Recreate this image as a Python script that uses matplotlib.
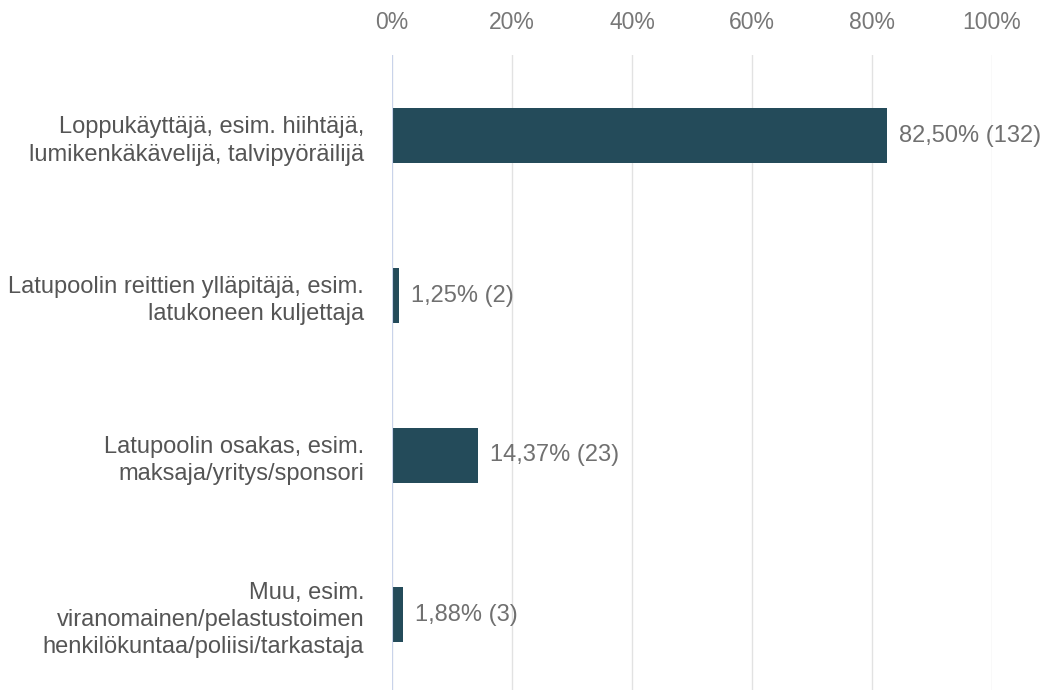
import matplotlib.pyplot as plt
import numpy as np

plt.rcParams['font.family'] = ['Liberation Sans', 'DejaVu Sans']

categories = [
    'Loppukäyttäjä, esim. hiihtäjä,\nlumikenkäkävelijä, talvipyöräilijä',
    'Latupoolin reittien ylläpitäjä, esim.\nlatukoneen kuljettaja',
    'Latupoolin osakas, esim.\nmaksaja/yritys/sponsori',
    'Muu, esim.\nviranomainen/pelastustoimen\nhenkilökuntaa/poliisi/tarkastaja',
]
percent = [82.50, 1.25, 14.37, 1.88]
counts = [132, 2, 23, 3]
xticks = [0, 20, 40, 60, 80, 100]

fig = plt.figure(figsize=(10.43, 6.90), dpi=100)
ax = fig.add_axes([0.3758, 0.0, 0.5753, 0.9203])

y = np.arange(len(categories))
ax.barh(y, percent, height=0.344, color='#244b5a', zorder=3)

ax.set_xlim(0, 100)
ax.set_ylim(3.47, -0.507)
ax.set_xticks(xticks)
ax.set_xticklabels([f'{t}%' for t in xticks])
ax.xaxis.tick_top()
ax.tick_params(axis='x', length=0, pad=15, labelsize=16.5, labelcolor='#777777')
ax.set_yticks(y)
ax.set_yticklabels(categories, fontsize=17, color='#555555', linespacing=1.3)
ax.tick_params(axis='y', length=0, pad=20)

ax.grid(axis='x', color='#e2e2e2', linewidth=1, zorder=0)
ax.axvline(0, color='#c9d3ea', linewidth=1.5, zorder=4)
for s in ax.spines.values():
    s.set_visible(False)

for yi, p, c in zip(y, percent, counts):
    lbl = f'{p:.2f}'.replace('.', ',') + f'% ({c})'
    ax.text(p + 2, yi, lbl, va='center', ha='left', fontsize=17, color='#707070')

fig.savefig('out.png', dpi=100)
